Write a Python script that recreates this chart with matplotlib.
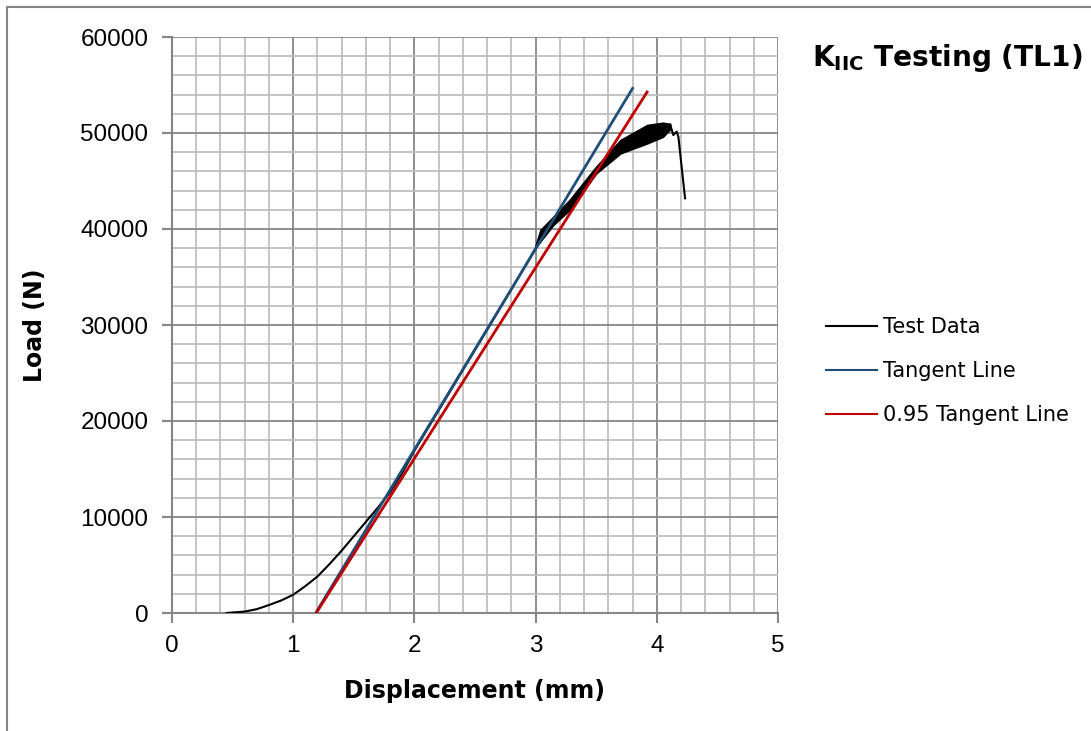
import matplotlib.pyplot as plt
import numpy as np
from matplotlib.ticker import MultipleLocator
from matplotlib.patches import Rectangle

# test data (displacement mm, load N)
disp = [0.45, 0.6, 0.7, 0.8, 0.9, 1.0, 1.1, 1.2, 1.3, 1.4, 1.5, 1.6, 1.7, 1.8, 1.9,
        2.0, 2.2, 2.4, 2.6, 2.8, 3.0, 3.28, 3.5, 3.7, 3.92, 4.05, 4.11,
        4.136, 4.164, 4.178, 4.233]
load = [0, 150, 400, 830, 1300, 1900, 2800, 3800, 5100, 6500, 8000, 9500, 11000, 12600, 14600,
        16900, 21100, 25300, 29500, 33700, 38000, 42500, 46150, 48600, 49900, 50400, 50900,
        49790, 50140, 49620, 43200]

# noisy band of the test data (lower / upper envelope)
band_x = [3.0, 3.04, 3.28, 3.5, 3.7, 3.92, 4.05, 4.11]
band_lo = [38000, 39200, 41980, 45800, 47880, 48920, 49600, 50400]
band_hi = [38300, 39900, 43020, 46500, 49270, 50830, 51070, 50940]

# tangent lines
tan_x = [1.186, 3.80]
tan_y = [0, 54650]
tan95_x = [1.19, 3.92]
tan95_y = [0, 54270]

fig = plt.figure(figsize=(10.91, 7.31), dpi=100)
fig.patches.append(Rectangle((7 / 1091, -0.1), 1.2, 1 - 7 / 731 + 0.1, transform=fig.transFigure,
                             fill=False, edgecolor='#868686', linewidth=1.5))
ax = fig.add_axes([172 / 1091, 1 - 613 / 731, 606 / 1091, 576 / 731])

ax.plot(disp, load, color='black', linewidth=1.5, label='Test Data', zorder=3)
ax.fill_between(band_x, band_lo, band_hi, color='black', linewidth=1.2, zorder=3)
ax.plot(tan_x, tan_y, color='#1F4E79', linewidth=2, label='Tangent Line', zorder=4)
ax.plot(tan95_x, tan95_y, color='#C00000', linewidth=2, label='0.95 Tangent Line', zorder=4)

ax.set_xlim(0, 5)
ax.set_ylim(0, 60000)
ax.xaxis.set_major_locator(MultipleLocator(1))
ax.xaxis.set_minor_locator(MultipleLocator(0.2))
ax.yaxis.set_major_locator(MultipleLocator(10000))
ax.yaxis.set_minor_locator(MultipleLocator(2000))
ax.grid(which='minor', color='#BFBFBF', linewidth=1.3)
ax.grid(which='major', color='#868686', linewidth=1.3)
ax.set_axisbelow(True)

for s in ['top', 'right']:
    ax.spines[s].set_visible(False)
for s in ['left', 'bottom']:
    ax.spines[s].set_color('#868686')
    ax.spines[s].set_linewidth(1.5)
ax.tick_params(which='major', direction='out', length=7, width=1.5, color='#868686',
               labelsize=17.5)
ax.tick_params(axis='y', pad=10)
ax.tick_params(axis='x', pad=9)
ax.tick_params(which='minor', length=0)
for lab in ax.get_xticklabels() + ax.get_yticklabels():
    lab.set_fontfamily('Liberation Sans')

ax.set_xlabel('Displacement (mm)', fontsize=17, fontweight='bold', labelpad=16)
ax.set_ylabel('Load (N)', fontsize=17, fontweight='bold', labelpad=24)

fig.text(812 / 1091, 1 - 58 / 731, r'K$_{\mathbf{IIC}}$ Testing (TL1)', fontsize=20.2,
         fontweight='bold', ha='left', va='center')

leg = ax.legend(loc='center left', bbox_to_anchor=(1.079, 0.42), frameon=False, fontsize=15,
                handlelength=2.45, handletextpad=0.3, labelspacing=1.15, borderpad=0,
                borderaxespad=0)
for line in leg.get_lines():
    line.set_linewidth(1.5)

fig.savefig('out.png', dpi=100)
